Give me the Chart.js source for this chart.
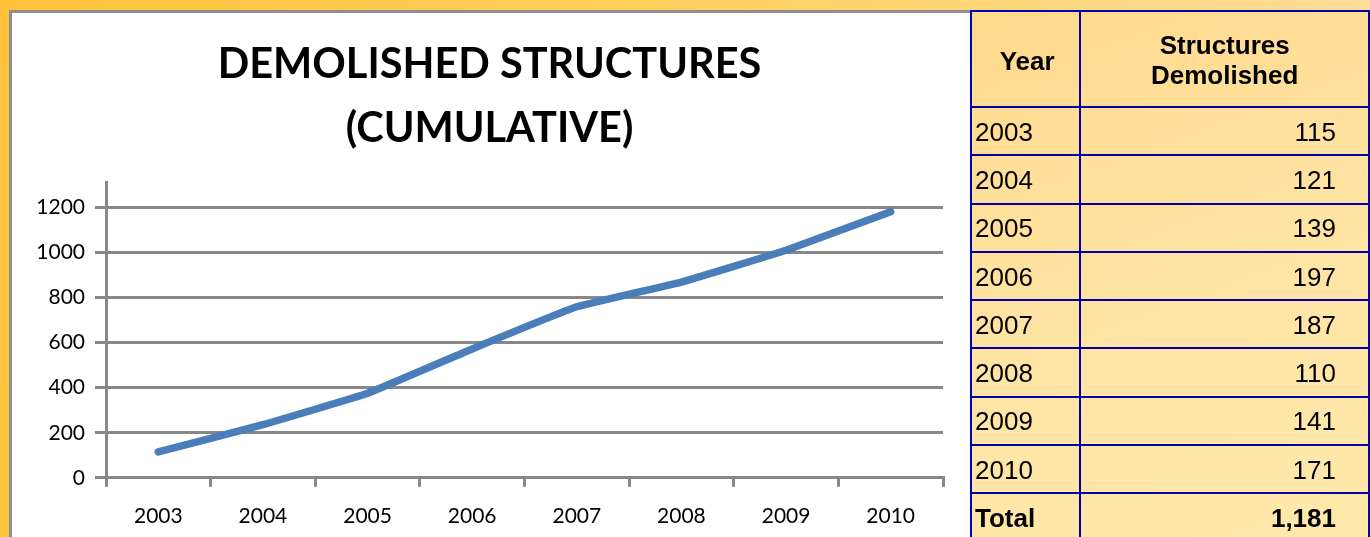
<!DOCTYPE html>
<html>
<head>
<meta charset="utf-8">
<script src="https://cdn.jsdelivr.net/npm/chart.js@4/dist/chart.umd.min.js"></script>
<style>
    html, body { margin: 0; padding: 0; }
    body {
        width: 1370px; height: 537px; overflow: hidden; position: relative;
        background: linear-gradient(100deg, #ffc23a 0%, #ffcf5e 45%, #fde0a0 100%);
    }
    #chart-box {
        position: absolute; left: 9px; top: 10px; width: 961px; height: 545px;
        background: #fff; border-left: 3px solid #8f8f8f; border-top: 3px solid #8f8f8f;
    }
    #table-box {
        position: absolute; left: 970px; top: 10px;
    }
    table {
        border-collapse: collapse;
        font-family: "Liberation Sans", Arial, sans-serif; font-size: 26px; color: #000;
        background: linear-gradient(160deg, #ffd98c 0%, #ffe3a3 50%, #ffe9ac 100%);
    }
    td, th { border: 2px solid #0000a8; padding: 0; }
    th { font-weight: bold; height: 92px; padding-top: 2px; }
    th.yr { height: 90px; padding-top: 4px; text-align: center; }
    td { height: 44.3px; padding-top: 2px; }
    .yr { width: 106px; text-align: left; padding-left: 3px; }
    .val { width: 260px; text-align: right; padding-right: 32px; }
    .hdr { text-align: center; padding-right: 0; line-height: 30px; }
    tr.total td { font-weight: bold; }
</style>
</head>
<body>
<div id="chart-box"><canvas id="chart" width="961" height="540"></canvas></div>
<div id="table-box"><table id="tbl"></table></div>
<script>
const years = ['2003', '2004', '2005', '2006', '2007', '2008', '2009', '2010'];
const demolished = [115, 121, 139, 197, 187, 110, 141, 171];
const cumulative = [115, 236, 375, 572, 759, 869, 1010, 1181];
const yTicks = [0, 200, 400, 600, 800, 1000, 1200];

// table on the right
const tbl = document.getElementById('tbl');
let html = '<tr><th class="yr">Year</th>' +
    '<th class="val hdr">Structures<br>Demolished</th></tr>';
years.forEach((y, i) => {
    html += '<tr><td class="yr">' + y + '</td><td class="val">' + demolished[i] + '</td></tr>';
});
const total = demolished.reduce((a, b) => a + b, 0);
html += '<tr class="total"><td class="yr">Total</td><td class="val">' + total.toLocaleString('en-US') + '</td></tr>';
tbl.innerHTML = html;

const gray = '#878787';
new Chart(document.getElementById('chart'), {
    type: 'line',
    data: {
        labels: years,
        datasets: [{
            label: 'Cumulative',
            data: cumulative,
            borderColor: '#4a7ebb',
            borderWidth: 7.5,
            borderCapStyle: 'round',
            borderJoinStyle: 'round',
            pointRadius: 0,
            tension: 0.1,
            fill: false
        }]
    },
    options: {
        responsive: false,
        animation: false,
        devicePixelRatio: 1,
        layout: { padding: { left: 24, right: 30, top: 0, bottom: 7 } },
        plugins: {
            legend: { display: false },
            tooltip: { enabled: false },
            title: {
                display: true,
                text: ['DEMOLISHED STRUCTURES', '(CUMULATIVE)'],
                color: '#000',
                font: { family: 'Lato', size: 41.5, weight: 'bold', lineHeight: 1.55 },
                padding: { top: 19, bottom: 22 }
            }
        },
        scales: {
            x: {
                offset: true,
                grid: { display: true, drawOnChartArea: false, drawTicks: true, offset: true, tickLength: 9, color: gray, lineWidth: 3 },
                border: { color: gray, width: 3 },
                ticks: { color: '#000', font: { family: 'Lato', size: 21 }, padding: 17 }
            },
            y: {
                min: 0,
                max: 1310,
                afterBuildTicks: function(axis) {
                    axis.ticks = yTicks.map(v => ({ value: v }));
                },
                afterFit: function(axis) {
                    axis.width = 70;
                },
                grid: { color: gray, lineWidth: 3, tickLength: 11 },
                border: { color: gray, width: 3 },
                ticks: {
                    color: '#000', font: { family: 'Lato', size: 21 }, padding: 10,
                    callback: function(value) { return String(value); }
                }
            }
        }
    }
});
</script>
</body>
</html>
